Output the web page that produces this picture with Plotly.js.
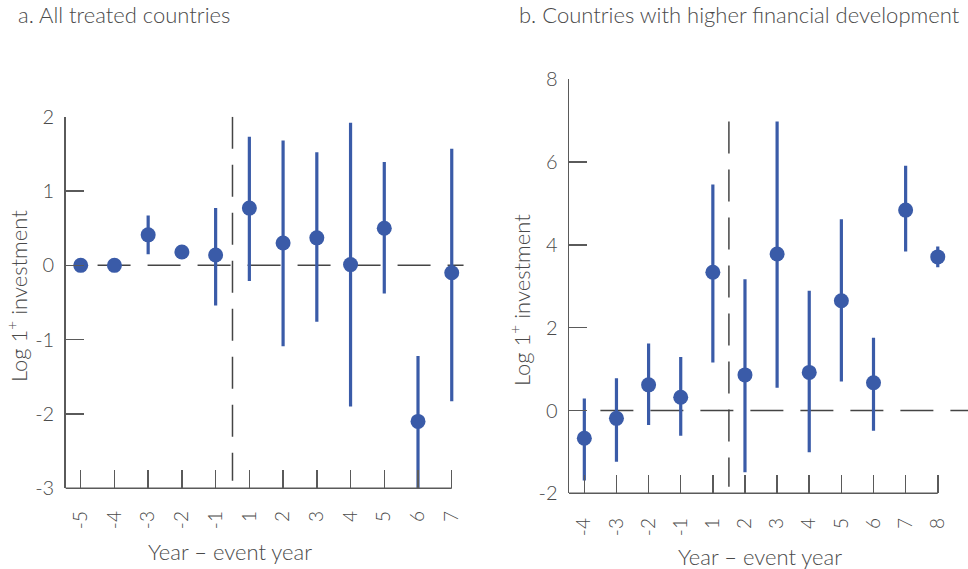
<!DOCTYPE html>
<html>
<head>
<meta charset="utf-8">
<script src="https://cdn.plot.ly/plotly-3.0.1.min.js"></script>
<style>html,body{margin:0;padding:0;background:#fff;}#chart{width:968px;height:569px;}</style>
</head>
<body>
<div id="chart"></div>
<script>
// Panel a: all treated countries
const catsA = ["-5","-4","-3","-2","-1","1","2","3","4","5","6","7"];
const estA  = [0, 0, 0.41, 0.18, 0.14, 0.77, 0.30, 0.37, 0.01, 0.50, -2.10, -0.10];
const hiA   = [0, 0, 0.67, 0.24, 0.77, 1.73, 1.68, 1.52, 1.92, 1.39, -1.22, 1.57];
const loA   = [0, 0, 0.15, 0.12, -0.54, -0.21, -1.09, -0.76, -1.90, -0.38, -3.00, -1.83];
const yTicksA = [-3, -2, -1, 0, 1, 2];
const yLabelsA = ["-3", "-2", "-1", "0", "1", "2"];

// Panel b: countries with higher financial development
const catsB = ["-4","-3","-2","-1","1","2","3","4","5","6","7","8"];
const estB  = [-0.67, -0.19, 0.62, 0.32, 3.34, 0.86, 3.78, 0.92, 2.65, 0.67, 4.84, 3.71];
const hiB   = [0.29, 0.78, 1.62, 1.29, 5.46, 3.17, 6.98, 2.89, 4.62, 1.76, 5.91, 3.96];
const loB   = [-1.69, -1.24, -0.35, -0.61, 1.16, -1.49, 0.55, -1.01, 0.70, -0.49, 3.84, 3.46];
const yTicksB = [-2, 0, 2, 4, 6, 8];
const yLabelsB = ["-2", "0", "2", "4", "6", "8"];

const titleA = "a. All treated countries";
const titleB = "b. Countries with higher financial development";
const yTitle = "Log 1<sup>+</sup> investment";
const xTitle = "Year – event year";

const W = 968, H = 569;
const BLUE = "#3a5ba8";
const AX = "#5a5a5a";
const DASHC = "#444444";
const FONT = "Lato, 'Open Sans', sans-serif";
const TXT = "#4a4a4a";
const WT = 300;

function trace(cats, est, hi, lo, xa, ya) {
  return {
    type: "scatter", mode: "markers", x: cats, y: est, xaxis: xa, yaxis: ya,
    marker: {color: BLUE, size: 15},
    error_y: {type: "data", symmetric: false,
      array: est.map((v, i) => hi[i] - v),
      arrayminus: est.map((v, i) => v - lo[i]),
      color: BLUE, thickness: 3.2, width: 0},
    hoverinfo: "skip", showlegend: false
  };
}

// geometry (pixels)
const A = {left: 65.7, right: 470, top: 116.7, bottom: 488.3, r0: -0.445};
const B = {left: 569, right: 968, top: 79.3, bottom: 493.3, r0: -0.477};
function pxPerUnit(P, r1) { return (P.right - P.left) / (r1 - P.r0); }
const rA1 = A.r0 + (A.right - A.left) / 33.73;
const rB1 = B.r0 + (B.right - B.left) / 32.13;

function xax(P, r1, cats, standoff) {
  return {
    domain: [P.left / W, P.right / W], range: [P.r0, r1], type: "category",
    categoryorder: "array", categoryarray: cats,
    showline: false, showgrid: false, zeroline: false,
    ticks: "inside", ticklen: 18, tickwidth: 1.5, tickcolor: AX,
    tickangle: -90, tickfont: {family: FONT, size: 19, color: TXT, weight: WT},
    ticklabelstandoff: standoff, fixedrange: true
  };
}
function yax(P, range, vals, labels, anchor) {
  return {
    domain: [1 - P.bottom / H, 1 - P.top / H], range: range, anchor: anchor,
    showline: true, linecolor: AX, linewidth: 1.5, showgrid: false, zeroline: false,
    ticks: "inside", ticklen: 18, tickwidth: 1.5, tickcolor: AX,
    tickmode: "array", tickvals: vals, ticktext: labels,
    ticklabelstandoff: 6,
    tickfont: {family: FONT, size: 20, color: TXT, weight: WT}, fixedrange: true
  };
}

const hdash = "33px,17px";
const vdash = "32px,16px";

function baseline(P, r1) {
  const xEnd = P.left + (11 - P.r0) * pxPerUnit(P, r1);
  return {type: "line", xref: "paper", yref: "paper",
    x0: P.left / W, x1: xEnd / W, y0: 1 - P.bottom / H, y1: 1 - P.bottom / H,
    line: {color: AX, width: 1.5}};
}

const shapes = [
  {type: "line", xref: "x", yref: "y", x0: 0.5, x1: 11.35, y0: 0, y1: 0, layer: "below",
   line: {color: DASHC, width: 1.5, dash: hdash}},
  {type: "line", xref: "x", yref: "y", x0: 4.5, x1: 4.5, y0: 2, y1: -2.9, layer: "below",
   line: {color: DASHC, width: 1.5, dash: vdash}},
  {type: "line", xref: "x2", yref: "y2", x0: 0.5, x1: rB1, y0: 0, y1: 0, layer: "below",
   line: {color: DASHC, width: 1.5, dash: hdash}},
  {type: "line", xref: "x2", yref: "y2", x0: 4.5, x1: 4.5, y0: 6.98, y1: -1.84, layer: "below",
   line: {color: DASHC, width: 1.5, dash: vdash}},
  baseline(A, rA1), baseline(B, rB1)
];

function ann(text, x, y, size, opts) {
  return Object.assign({text: text, xref: "paper", yref: "paper", x: x / W, y: 1 - y / H,
    showarrow: false, font: {family: FONT, size: size, color: TXT, weight: WT},
    xanchor: "center", yanchor: "middle"}, opts || {});
}

const annotations = [
  ann(titleA, 16, 14, 22, {xanchor: "left"}),
  ann(titleB, 517, 14, 22, {xanchor: "left"}),
  ann(xTitle, 230, 551, 22),
  ann(xTitle, 760, 556, 22),
  ann(yTitle, 17, 296, 22, {textangle: -90}),
  ann(yTitle, 520, 300, 22, {textangle: -90})
];

const layout = {
  width: W, height: H, margin: {l: 0, r: 0, t: 0, b: 0},
  paper_bgcolor: "#ffffff", plot_bgcolor: "#ffffff", showlegend: false,
  xaxis: Object.assign(xax(A, rA1, catsA, 18), {anchor: "y"}),
  yaxis: yax(A, [-3, 2], yTicksA, yLabelsA, "x"),
  xaxis2: Object.assign(xax(B, rB1, catsB, 20), {anchor: "y2"}),
  yaxis2: yax(B, [-2, 8], yTicksB, yLabelsB, "x2"),
  shapes: shapes, annotations: annotations
};

Plotly.newPlot("chart", [
  trace(catsA, estA, hiA, loA, "x", "y"),
  trace(catsB, estB, hiB, loB, "x2", "y2")
], layout, {staticPlot: true, displayModeBar: false});
</script>
</body>
</html>
